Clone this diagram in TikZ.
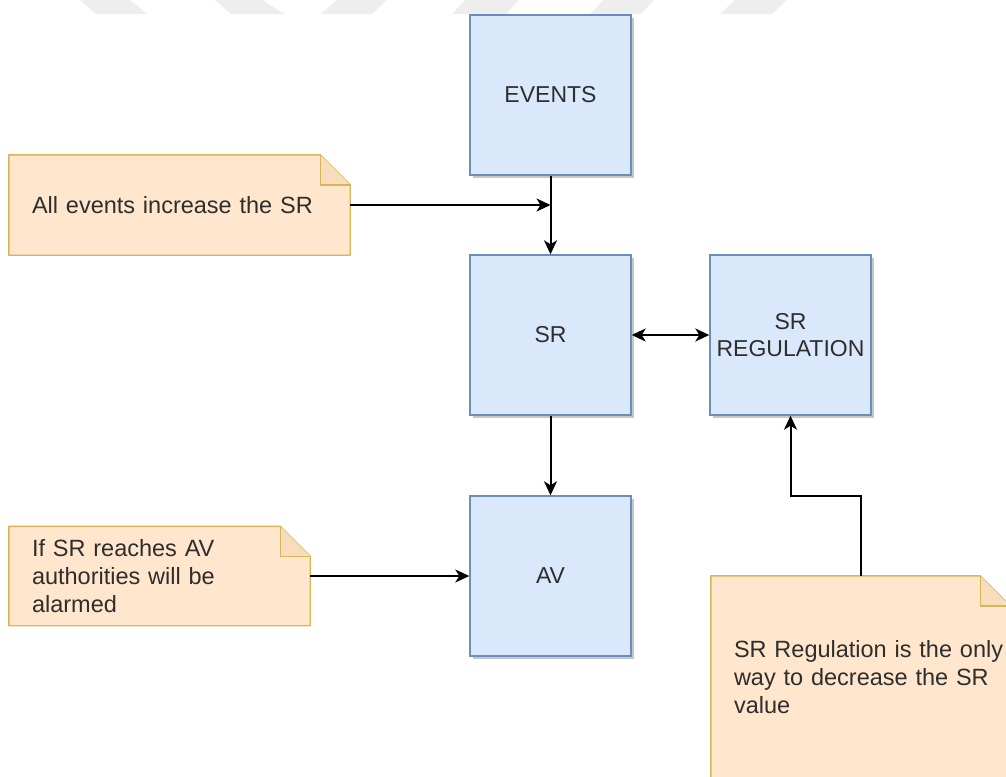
\documentclass[tikz,border=0pt]{standalone}
\usepackage{fontspec}
\setmainfont{Liberation Sans}
\usetikzlibrary{arrows.meta,shadows,backgrounds}

\definecolor{boxfill}{HTML}{DAE8FC}
\definecolor{boxline}{HTML}{6C8EBF}
\definecolor{notefill}{HTML}{FFE6CC}
\definecolor{notefold}{HTML}{F8DDBD}
\definecolor{noteline}{HTML}{D6B656}
\definecolor{inkgray}{HTML}{2E2E2E}
\definecolor{stripegray}{HTML}{EEEEEE}

% folded-corner note outline behind a named text node
\newcommand\drawnote[1]{%
  \fill[black, opacity=0.18, xshift=3pt, yshift=-3pt]
    (#1.north west) -- ([xshift=-30pt]#1.north east) -- ([yshift=-30pt]#1.north east)
    -- (#1.south east) -- (#1.south west) -- cycle;
  \filldraw[fill=notefill, draw=noteline, line width=1.4pt, line join=round]
    (#1.north west) -- ([xshift=-30pt]#1.north east) -- ([yshift=-30pt]#1.north east)
    -- (#1.south east) -- (#1.south west) -- cycle;
  \filldraw[fill=notefold, draw=noteline, line width=1.4pt, line join=round]
    ([xshift=-30pt]#1.north east) -- ([xshift=-30pt,yshift=-30pt]#1.north east)
    -- ([yshift=-30pt]#1.north east);
}

\begin{document}
\begin{tikzpicture}[x=1pt, y=-1pt,
  block/.style={draw=boxline, fill=boxfill, line width=1.4pt,
    minimum width=161pt, minimum height=160pt, inner sep=0pt,
    align=center, text=inkgray, font=\fontsize{23}{27}\selectfont,
    drop shadow={shadow xshift=3pt, shadow yshift=-3pt, opacity=0.22, fill=black}},
  notetext/.style={inner xsep=23pt, inner ysep=0pt, align=left,
    text=inkgray, font=\fontsize{23.5}{28}\selectfont},
  link/.style={line width=2pt, draw=black},
  tip/.style={-{Stealth[length=14pt, width=13pt, inset=4pt]}},
  twotips/.style={{Stealth[length=14pt, width=13pt, inset=4pt]}-{Stealth[length=14pt, width=13pt, inset=4pt]}}
]
\useasboundingbox (0,0) rectangle (1006,776);
\clip (0,0) rectangle (1006,776);

% light band of slanted stripes along the top edge
\fill[stripegray] (80,0) -- (130,0) -- (147,14) -- (96,14) -- cycle;
\fill[stripegray] (215,0) -- (262,0) -- (285,14) -- (231,14) -- cycle;
\fill[stripegray] (337,0) -- (387,0) -- (372,14) -- (321,14) -- cycle;
\fill[stripegray] (465,0) -- (519,0) -- (506,14) -- (452,14) -- cycle;
\fill[stripegray] (603,0) -- (654,0) -- (641,14) -- (590,14) -- cycle;
\fill[stripegray] (735,0) -- (787,0) -- (772,14) -- (720,14) -- cycle;

% process blocks
\node[block] (ev)  at (550.5,95)  {EVENTS};
\node[block] (sr)  at (550.5,335) {SR};
\node[block] (av)  at (550.5,576) {AV};
\node[block] (reg) at (790.5,335) {SR\\REGULATION};

% notes
\node[notetext, text width=295pt, minimum height=100pt] (n1) at (179.5,205)
  {All events increase the SR};
\node[notetext, text width=255pt, minimum height=99pt] (n2) at (159.5,576)
  {If SR reaches AV\\authorities will be\\alarmed};
\node[notetext, text width=253pt, minimum height=202pt] (n3) at (860.5,677)
  {\mbox{SR Regulation is the only}\\\mbox{way to decrease the SR}\\value};

\begin{scope}[on background layer]
  \drawnote{n1}
  \drawnote{n2}
  \drawnote{n3}
\end{scope}

% connectors
\coordinate (join) at (n1.east -| ev.south);
\draw[link, tip] (ev) -- (sr);
\draw[link, tip] (n1) -- (join);
\draw[link, tip] (sr) -- (av);
\draw[link, tip] (n2) -- (av);
\draw[link, twotips] (sr) -- (reg);
\draw[link, tip] (n3.north) -- ++(0,-80) -| (reg.south);
\end{tikzpicture}
\end{document}
